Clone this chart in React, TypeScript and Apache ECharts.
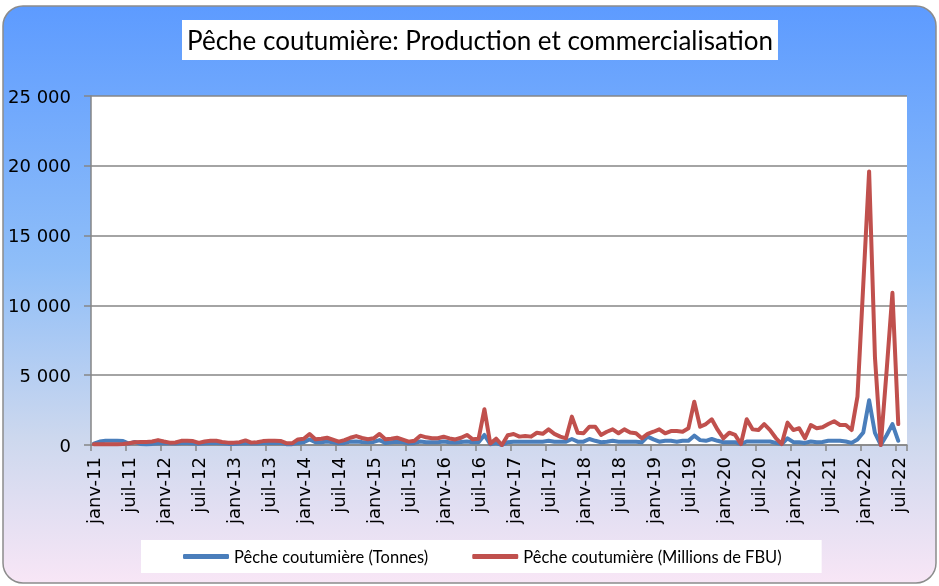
import React, { useEffect, useRef } from "react";
import * as echarts from "echarts";

const monthNames = ["janv", "févr", "mars", "avr", "mai", "juin", "juil", "août", "sept", "oct", "nov", "déc"];
const years = [11, 12, 13, 14, 15, 16, 17, 18, 19, 20, 21, 22];
const lastMonthIndex = 7; // août-22 closes the axis

const categories: string[] = [];
years.forEach((y) => {
  monthNames.forEach((m, i) => {
    if (y === 22 && i > lastMonthIndex) return;
    categories.push(`${m}-${y}`);
  });
});

const seriesNames = ["Pêche coutumière (Tonnes)", "Pêche coutumière (Millions de FBU)"];

const tonnes: (number | null)[] = [
  100, 250, 300, 300, 300, 280, 100, 220, 80, 60, 80, 120,
  150, 120, 100, 150, 150, 130, 80, 120, 150, 150, 120, 80,
  80, 100, 150, 100, 100, 150, 150, 150, 150, 60, 60, 150,
  200, 400, 200, 200, 250, 200, 120, 150, 240, 250, 220, 200,
  220, 350, 150, 200, 240, 200, 120, 150, 250, 200, 200, 200,
  250, 200, 180, 220, 250, 200, 200, 720, 50, 150, 0, 200,
  240, 240, 240, 240, 240, 240, 300, 240, 240, 240, 430, 240,
  240, 430, 300, 200, 240, 300, 240, 240, 240, 240, 200, 600,
  400, 240, 300, 300, 240, 300, 300, 670, 350, 300, 430, 300,
  200, 200, 200, 70, 250, 250, 250, 250, 250, 150, 70, 480,
  200, 200, 150, 250, 200, 220, 300, 300, 300, 250, 150, 400,
  900, 3200, 860, 0, 700, 1500, 300, null,
];

const millionsFBU: (number | null)[] = [
  50, 60, 60, 60, 60, 70, 120, 200, 220, 220, 250, 350,
  250, 170, 180, 300, 300, 280, 150, 250, 300, 300, 220, 170,
  170, 200, 330, 170, 200, 280, 300, 310, 290, 130, 120, 400,
  450, 790, 410, 450, 520, 380, 240, 350, 520, 640, 500, 410,
  480, 790, 410, 450, 520, 380, 240, 310, 670, 550, 480, 480,
  590, 470, 400, 520, 720, 410, 450, 2560, 100, 450, 0, 700,
  790, 600, 650, 600, 880, 800, 1120, 800, 600, 480, 2030, 880,
  840, 1310, 1310, 720, 950, 1120, 840, 1120, 900, 840, 480, 800,
  950, 1120, 840, 1000, 1000, 950, 1200, 3100, 1310, 1500, 1840, 1100,
  480, 880, 720, 70, 1840, 1120, 1070, 1500, 1070, 500, 70, 1600,
  1070, 1200, 480, 1430, 1200, 1270, 1500, 1700, 1430, 1430, 1070, 3460,
  11500, 19600, 6300, 0, 5300, 10900, 1500, null,
];

const yMin = 0;
const yMax = 25000;
const yInterval = 5000;

const fmt = (v: number) => String(v).replace(/\B(?=(\d{3})+(?!\d))/g, " ");

export default function App() {
  const ref = useRef<HTMLDivElement>(null);
  useEffect(() => {
    if (!ref.current) return;
    const chart = echarts.init(ref.current, null, { renderer: "svg" });
    chart.setOption({
      animation: false,
      backgroundColor: "transparent",
      graphic: [
        {
          type: "rect",
          z: -10,
          silent: true,
          shape: { x: 3, y: 6, width: 933, height: 577, r: 20 },
          style: {
            fill: new echarts.graphic.LinearGradient(0, 0, 0, 1, [
              { offset: 0, color: "#5d9bff" },
              { offset: 0.45, color: "#8fbef8" },
              { offset: 0.75, color: "#cdd8ee" },
              { offset: 1, color: "#f8e6f6" },
            ]),
            stroke: "#8c8c8c",
            lineWidth: 1.5,
          },
        },
      ],
      title: {
        text: "Pêche coutumière: Production et commercialisation",
        left: 182,
        top: 20,
        backgroundColor: "#ffffff",
        padding: [7, 5, 7, 5],
        textStyle: {
          fontFamily: "Lato, sans-serif",
          fontSize: 26,
          fontWeight: "normal",
          color: "#000",
        },
      },
      legend: {
        left: 141,
        top: 540,
        backgroundColor: "#ffffff",
        padding: [8, 40, 8, 42],
        itemGap: 44,
        itemWidth: 46,
        itemHeight: 5,
        icon: "roundRect",
        data: seriesNames,
        textStyle: {
          fontFamily: "Lato, sans-serif",
          fontSize: 16.5,
          color: "#000",
        },
      },
      grid: {
        left: 91,
        right: 32,
        top: 96,
        bottom: 141,
        show: true,
        backgroundColor: "#ffffff",
        borderWidth: 0,
      },
      xAxis: {
        type: "category",
        data: categories,
        boundaryGap: true,
        axisLine: { show: true, lineStyle: { color: "#868686", width: 1.5 } },
        axisTick: { show: true, interval: 5, length: 6, lineStyle: { color: "#868686", width: 1.5 } },
        axisLabel: {
          interval: 5,
          rotate: 90,
          margin: 12,
          fontFamily: "'DejaVu Sans', sans-serif",
          fontSize: 18,
          color: "#000",
        },
        splitLine: { show: false },
      },
      yAxis: {
        type: "value",
        min: yMin,
        max: yMax,
        interval: yInterval,
        axisLine: { show: true, lineStyle: { color: "#868686", width: 1.5 } },
        axisTick: { show: true, length: 7, lineStyle: { color: "#868686", width: 1.5 } },
        axisLabel: {
          margin: 20,
          fontFamily: "'DejaVu Sans', sans-serif",
          fontSize: 18,
          color: "#000",
          formatter: (v: number) => fmt(v),
        },
        splitLine: { show: true, lineStyle: { color: "#868686", width: 1.5 } },
      },
      series: [
        {
          name: seriesNames[0],
          type: "line",
          data: tonnes,
          symbol: "none",
          itemStyle: { color: "#4a7ebb" },
          lineStyle: { color: "#4a7ebb", width: 4, cap: "round", join: "round" },
          z: 2,
        },
        {
          name: seriesNames[1],
          type: "line",
          data: millionsFBU,
          symbol: "none",
          itemStyle: { color: "#c0504d" },
          lineStyle: { color: "#c0504d", width: 4, cap: "round", join: "round" },
          z: 3,
        },
      ],
    });
    return () => chart.dispose();
  }, []);
  return (
    <div
      ref={ref}
      style={{ position: "fixed", left: 0, top: 0, width: 939, height: 586 }}
    />
  );
}
